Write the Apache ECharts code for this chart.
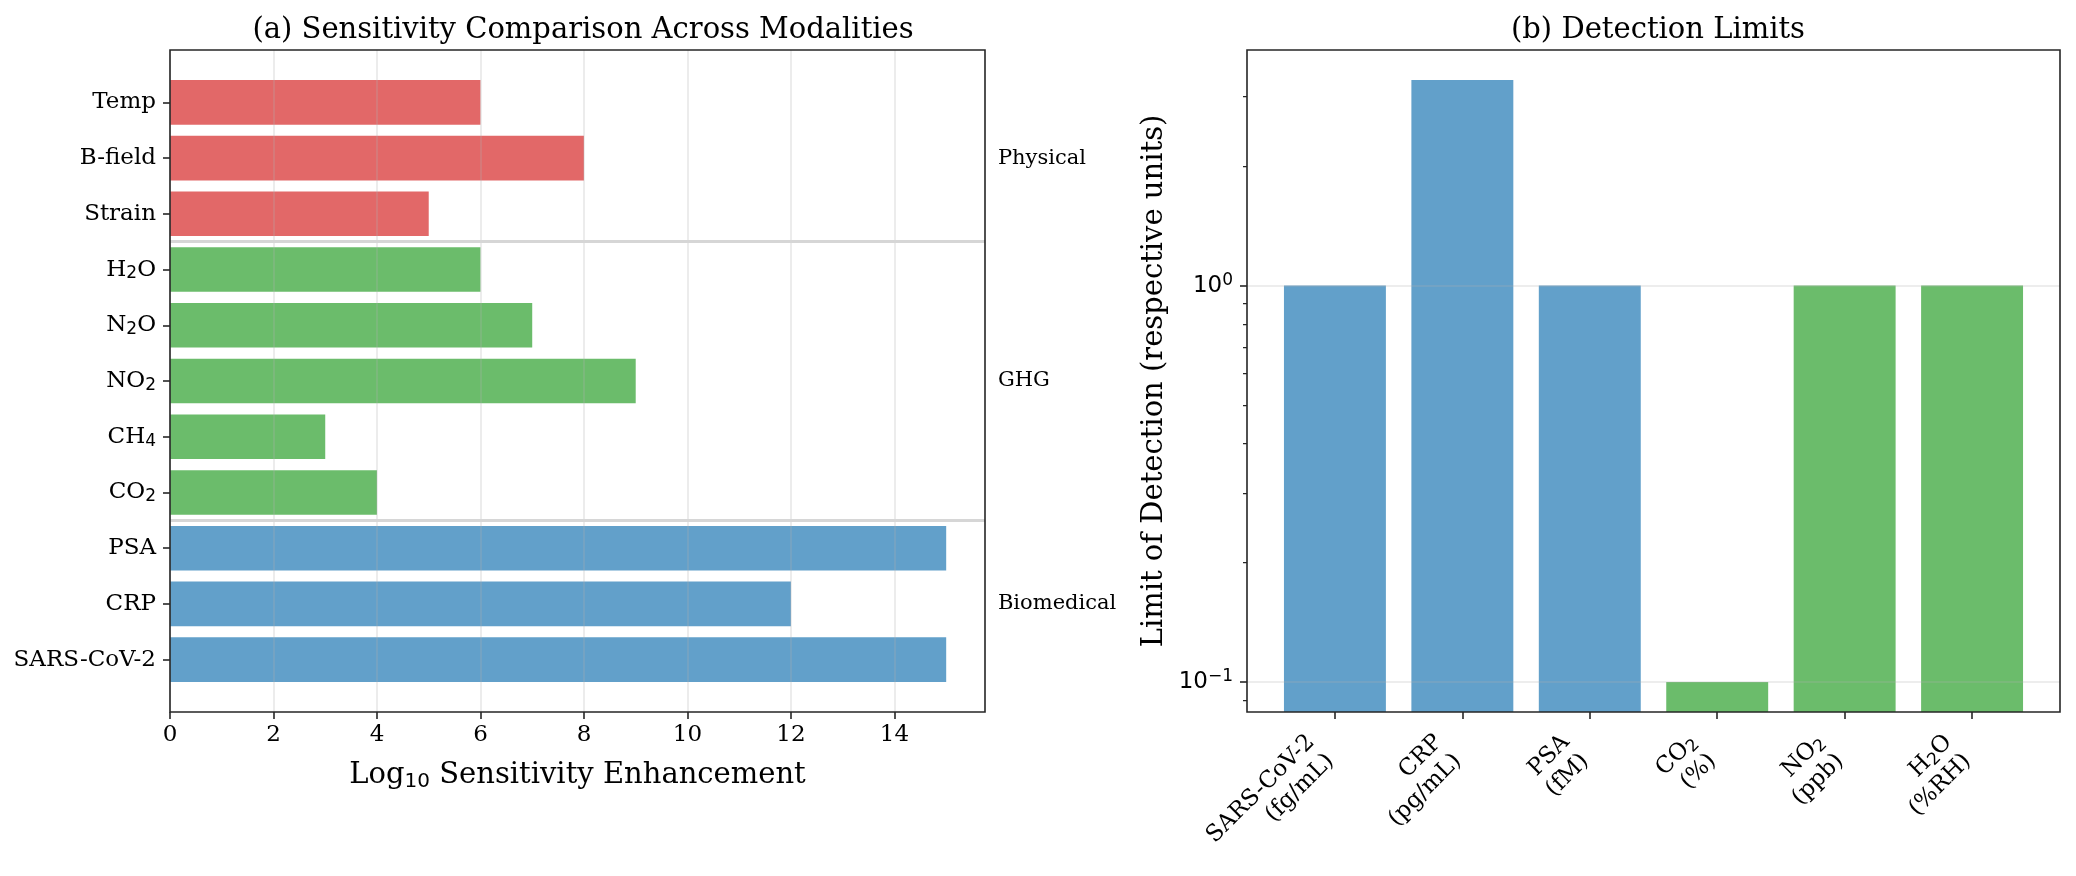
<!DOCTYPE html>
<html><head><meta charset="utf-8">
<script src="https://cdn.jsdelivr.net/npm/echarts@6/dist/echarts.min.js"></script>
<style>html,body{margin:0;padding:0;background:#fff}#c{width:2076px;height:876px}</style>
</head><body><div id="c"></div>
<script>
// ---- Panel (a) data ----
const sensCategories = ['SARS-CoV-2','CRP','PSA','CO{s|2}','CH{s|4}','NO{s|2}','N{s|2}O','H{s|2}O','Strain','B-field','Temp'];
const sensValues = [15,12,15,4,3,9,7,6,5,8,6];
const groupNames = ['Biomedical','GHG','Physical'];
const groupSizes = [3,5,3];
const sensTicks = [0,2,4,6,8,10,12,14];
// ---- Panel (b) data ----
const lodCategories = ['SARS-CoV-2\n(fg/mL)','CRP\n(pg/mL)','PSA\n(fM)','CO{s|2}\n(%)','NO{s|2}\n(ppb)','H{s|2}O\n(%RH)'];
const lodValues = [1,3.3,1,0.1,1,1];
const lodGroups = ['Biomedical','Biomedical','Biomedical','GHG','GHG','GHG'];
const lodMajorTicks = [0.1,1];
const lodMajorLabels = ['10{p|−1}','10{p|0}'];
const lodMinorTicks = [0.09,0.2,0.3,0.4,0.5,0.6,0.7,0.8,0.9,2,3];

const groupColors = {Biomedical:'#62a0ca', GHG:'#6bbc6b', Physical:'#e26868'};
const SERIF = "'DejaVu Serif', serif";
const SANS = "'DejaVu Sans', sans-serif";
const INK = '#262626';
const TICK_FS = 23, BIG_FS = 29;

// group of each category in panel (a)
const sensGroups = [];
groupNames.forEach((g,i)=>{ for(let k=0;k<groupSizes[i];k++) sensGroups.push(g); });
const groupMids = [], groupSeps = [];
let start = 0;
groupSizes.forEach((n,i)=>{ groupMids.push(start+(n-1)/2); if(i<groupSizes.length-1) groupSeps.push(start+n-0.5); start+=n; });

// matplotlib-like margins
const nA = sensCategories.length;
const yPadA = 0.05*((nA-1+0.4)-(-0.4));
const xMaxA = Math.max(...sensValues)*1.05;
const nB = lodCategories.length;
const xPadB = 0.05*((nB-1+0.4)-(-0.4));
const lLo = Math.log10(Math.min(...lodValues)), lHi = Math.log10(Math.max(...lodValues));
const lPad = 0.05*(lHi-lLo);
const yMinB = Math.pow(10, lLo-lPad), yMaxB = Math.pow(10, lHi+lPad);

const subRich = (fs) => ({
  s:{fontFamily:SANS, fontSize:Math.round(fs*0.72), lineHeight:14, verticalAlign:'bottom', color:'#000'},
  p:{fontFamily:SANS, fontSize:Math.round(fs*0.72), lineHeight:14, verticalAlign:'top', color:'#000'}
});

const chart = echarts.init(document.getElementById('c'));
const tickStyle = {show:true, length:7, lineStyle:{color:INK, width:1.6}};
const gridLine = {show:true, lineStyle:{color:'rgba(176,176,176,0.3)', width:1.6}};

chart.setOption({
  animation:false,
  backgroundColor:'#fff',
  title:[
    {text:'(a) Sensitivity Comparison Across Modalities', left:578, top:11, textAlign:'center',
     textStyle:{fontFamily:SERIF, fontSize:BIG_FS, fontWeight:'normal', color:'#000'}},
    {text:'(b) Detection Limits', left:1653, top:11, textAlign:'center',
     textStyle:{fontFamily:SERIF, fontSize:BIG_FS, fontWeight:'normal', color:'#000'}}
  ],
  grid:[
    {left:170, top:50, width:815, height:662, show:true, borderColor:INK, borderWidth:1.6, z:4},
    {left:1247, top:50, width:813, height:662, show:true, borderColor:INK, borderWidth:1.6, z:4}
  ],
  xAxis:[
    {type:'value', gridIndex:0, min:0, max:xMaxA, interval:2, z:3,
     axisLine:{show:false, onZero:false}, axisTick:Object.assign({customValues:sensTicks}, tickStyle),
     axisLabel:{customValues:sensTicks, margin:12, fontFamily:SERIF, fontSize:TICK_FS, color:'#000'},
     splitLine:gridLine,
     name:'Log{s|10} Sensitivity Enhancement', nameLocation:'middle', nameGap:46,
     nameTextStyle:{fontFamily:SERIF, fontSize:BIG_FS, color:'#000', lineHeight:34,
       rich:{s:{fontFamily:SANS, fontSize:20, lineHeight:22, verticalAlign:'bottom', color:'#000'}}}},
    {type:'value', gridIndex:1, min:-0.4-xPadB, max:nB-1+0.4+xPadB, z:3,
     axisLine:{show:false, onZero:false}, axisTick:Object.assign({customValues:lodCategories.map((_,i)=>i)}, tickStyle),
     axisLabel:{customValues:lodCategories.map((_,i)=>i), rotate:45, margin:22, padding:[0,20,0,0],
       fontFamily:SERIF, fontSize:TICK_FS, color:'#000', lineHeight:27, rich:subRich(TICK_FS),
       formatter:(v)=>lodCategories[Math.round(v)]},
     splitLine:{show:false}}
  ],
  yAxis:[
    {type:'value', gridIndex:0, min:-0.4-yPadA, max:nA-1+0.4+yPadA, z:3,
     axisLine:{show:false, onZero:false}, axisTick:Object.assign({customValues:sensCategories.map((_,i)=>i)}, tickStyle),
     axisLabel:{customValues:sensCategories.map((_,i)=>i), margin:14, fontFamily:SERIF, fontSize:TICK_FS, color:'#000',
       lineHeight:26, rich:subRich(TICK_FS),
       formatter:(v)=>sensCategories[Math.round(v)]},
     splitLine:{show:false}},
    {type:'log', logBase:10, gridIndex:1, min:yMinB, max:yMaxB, z:3,
     axisLine:{show:false, onZero:false}, axisTick:Object.assign({customValues:lodMajorTicks}, tickStyle),
     axisLabel:{customValues:lodMajorTicks, margin:14, fontFamily:SANS, fontSize:TICK_FS, color:'#000',
       lineHeight:28, rich:subRich(TICK_FS),
       formatter:(v)=>lodMajorLabels[lodMajorTicks.findIndex(t=>Math.abs(t-v)<1e-9)]},
     splitLine:gridLine,
     name:'Limit of Detection (respective units)', nameLocation:'middle', nameGap:78,
     nameTextStyle:{fontFamily:SERIF, fontSize:BIG_FS, color:'#000'}},
    {type:'log', logBase:10, gridIndex:1, min:yMinB, max:yMaxB, position:'left', z:3,
     axisLine:{show:false, onZero:false}, axisTick:{show:true, customValues:lodMinorTicks, length:4, lineStyle:{color:INK, width:1.25}},
     axisLabel:{show:false}, splitLine:{show:false}}
  ],
  series:[
    {type:'custom', xAxisIndex:0, yAxisIndex:0,
     data:sensValues.map((v,i)=>[v,i]),
     renderItem:(params, api)=>{
       const v = api.value(0), i = api.value(1);
       const p0 = api.coord([0,i]), p1 = api.coord([v,i]);
       const h = api.size([0,0.8])[1];
       return {type:'rect', shape:{x:p0[0], y:p0[1]-h/2, width:p1[0]-p0[0], height:h},
               style:{fill:groupColors[sensGroups[params.dataIndex]]}};
     },
     markLine:{silent:true, symbol:'none', label:{show:false}, z:3,
       lineStyle:{color:'#d6d6d6', width:3, type:'solid'},
       data:groupSeps.map(s=>({yAxis:s}))}
    },
    {type:'custom', xAxisIndex:0, yAxisIndex:0, clip:false,
     data:groupNames.map((g,i)=>[16, groupMids[i]]),
     renderItem:(params, api)=>{
       const p = api.coord([api.value(0), api.value(1)]);
       return {type:'text', x:p[0], y:p[1],
               style:{text:groupNames[params.dataIndex], fontFamily:SERIF, fontSize:21, fill:'#000',
                      align:'left', verticalAlign:'middle'}};
     }
    },
    {type:'custom', xAxisIndex:1, yAxisIndex:1,
     data:lodValues.map((v,i)=>[i,v]),
     renderItem:(params, api)=>{
       const i = api.value(0), v = api.value(1);
       const top = api.coord([i,v]);
       const w = api.size([0.8,0])[0];
       const bottom = params.coordSys.y + params.coordSys.height;
       return {type:'rect', shape:{x:top[0]-w/2, y:top[1], width:w, height:bottom-top[1]},
               style:{fill:groupColors[lodGroups[params.dataIndex]]}};
     }
    }
  ]
});
</script></body></html>
